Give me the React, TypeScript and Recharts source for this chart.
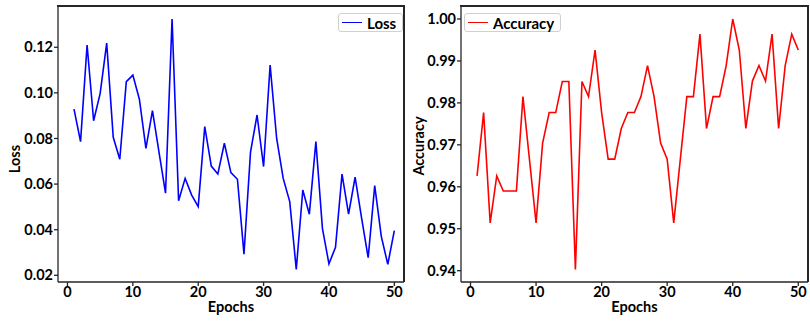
import { LineChart, Line, XAxis, YAxis, Legend } from 'recharts';

// epochs on the x axis
const epochs = [
    1, 2, 3, 4, 5, 6, 7, 8, 9, 10,
    11, 12, 13, 14, 15, 16, 17, 18, 19, 20,
    21, 22, 23, 24, 25, 26, 27, 28, 29, 30,
    31, 32, 33, 34, 35, 36, 37, 38, 39, 40,
    41, 42, 43, 44, 45, 46, 47, 48, 49, 50,
];

const lossValues = [
    0.0929, 0.0786, 0.121, 0.0878, 0.0998, 0.1218, 0.0805, 0.0709, 0.1049, 0.1078,
    0.0972, 0.0757, 0.0922, 0.074, 0.056, 0.1324, 0.0527, 0.0625, 0.0552, 0.0501,
    0.0852, 0.0679, 0.0644, 0.0779, 0.065, 0.0621, 0.0293, 0.074, 0.0903, 0.0677,
    0.1122, 0.08, 0.0625, 0.0523, 0.0226, 0.0574, 0.0468, 0.0786, 0.0406, 0.025,
    0.0323, 0.0644, 0.0468, 0.063, 0.045, 0.0277, 0.0593, 0.0372, 0.0248, 0.0396,
];

const accuracyValues = [
    0.9626, 0.9777, 0.9514, 0.9626, 0.959, 0.959, 0.959, 0.9815, 0.9664, 0.9514,
    0.9704, 0.9777, 0.9777, 0.9851, 0.9851, 0.9403, 0.9851, 0.9815, 0.9926, 0.9777,
    0.9666, 0.9666, 0.9739, 0.9777, 0.9777, 0.9815, 0.9889, 0.9815, 0.9704, 0.9666,
    0.9514, 0.9665, 0.9815, 0.9815, 0.9964, 0.9739, 0.9815, 0.9815, 0.9889, 1.0,
    0.9926, 0.9739, 0.9852, 0.9889, 0.9852, 0.9964, 0.9739, 0.9889, 0.9964, 0.9926,
];

const xTicks = [0, 10, 20, 30, 40, 50];
const lossTicks = [0.02, 0.04, 0.06, 0.08, 0.1, 0.12];
const accuracyTicks = [0.94, 0.95, 0.96, 0.97, 0.98, 0.99, 1.0];

const data = epochs.map((epoch, i) => ({ epoch, loss: lossValues[i], accuracy: accuracyValues[i] }));

const xDomain: [number, number] = [-1.45, 51.48];
const spine = '#262626';
const tickStyle = { fontSize: 14.5, fontWeight: 700, fill: '#000' };
const labelStyle = { fontSize: 14.5, fontWeight: 700, fill: '#000' };

// matplotlib-like legend box
const renderLegend = (props: any) => {
    const item = props.payload?.[0];
    if (!item) return null;
    return (
        <div style={{
            display: 'flex', alignItems: 'center', gap: 5,
            border: '1px solid #d0d0d0', borderRadius: 3, background: '#fff',
            padding: '0px 6px 0px 3px', height: 17, fontFamily: 'Lato',
            fontWeight: 700, fontSize: 15, color: '#000',
        }}>
            <span style={{ display: 'inline-block', width: 20, height: 1.6, background: item.color }} />
            <span>{item.value}</span>
        </div>
    );
};

interface PanelProps {
    dataKey: string;
    name: string;
    color: string;
    yDomain: [number, number];
    yTicks: number[];
    width: number;
    margin: { top: number; right: number; bottom: number; left: number };
    yAxisWidth: number;
    yLabelDx: number;
    yLabelDy: number;
    legendLeft: number;
}

function Panel(p: PanelProps) {
    return (
        <LineChart width={p.width} height={321} data={data} margin={p.margin}>
            <XAxis
                dataKey="epoch"
                type="number"
                domain={xDomain}
                ticks={xTicks}
                height={30}
                tickSize={4}
                tickMargin={1}
                tick={tickStyle}
                stroke={spine}
                strokeWidth={1.3}
                label={{ value: 'Epochs', position: 'center', dy: 10, style: labelStyle }}
            />
            <YAxis
                type="number"
                domain={p.yDomain}
                ticks={p.yTicks}
                width={p.yAxisWidth}
                tickSize={4}
                tickMargin={1}
                tick={tickStyle}
                tickFormatter={(v: number) => v.toFixed(2)}
                stroke={spine}
                strokeWidth={1.3}
                label={{ value: p.name, angle: -90, position: 'center', dx: p.yLabelDx, dy: p.yLabelDy, style: labelStyle }}
            />
            <Legend
                layout="horizontal"
                verticalAlign="middle"
                align="center"
                content={renderLegend}
                wrapperStyle={{ top: 13, left: p.legendLeft, width: 'auto' }}
            />
            <Line
                type="linear"
                dataKey={p.dataKey}
                name={p.name}
                stroke={p.color}
                strokeWidth={1.6}
                dot={false}
                isAnimationActive={false}
            />
        </LineChart>
    );
}

// thin filled strips for the top and right spines of each panel
const spineBar = (left: number, top: number, width: number, height: number) => (
    <div style={{ position: 'absolute', left, top, width, height, background: spine, pointerEvents: 'none', zIndex: 5 }} />
);

export default function App() {
    return (
        <div style={{ position: 'absolute', left: 0, top: 0, width: 810, height: 321, background: '#fff', fontFamily: 'Lato' }}>
            <div style={{ position: 'absolute', left: 0, top: 0 }}>
                <Panel
                    dataKey="loss"
                    name="Loss"
                    color="#0000ff"
                    yDomain={[0.01706, 0.1381]}
                    yTicks={lossTicks}
                    width={410}
                    margin={{ top: 6, right: 6, bottom: 9, left: 8 }}
                    yAxisWidth={50}
                    yLabelDx={-18}
                    yLabelDy={15}
                    legendLeft={338}
                />
            </div>
            <div style={{ position: 'absolute', left: 410, top: 0 }}>
                <Panel
                    dataKey="accuracy"
                    name="Accuracy"
                    color="#ff0000"
                    yDomain={[0.9373, 1.0031]}
                    yTicks={accuracyTicks}
                    width={400}
                    margin={{ top: 6, right: 2, bottom: 9, left: 6 }}
                    yAxisWidth={45}
                    yLabelDx={-20}
                    yLabelDy={2}
                    legendLeft={54}
                />
            </div>
            {spineBar(57, 5, 348, 2)}
            {spineBar(403, 5, 2, 277)}
            {spineBar(460, 5, 349, 2)}
            {spineBar(807, 5, 2, 277)}
        </div>
    );
}
